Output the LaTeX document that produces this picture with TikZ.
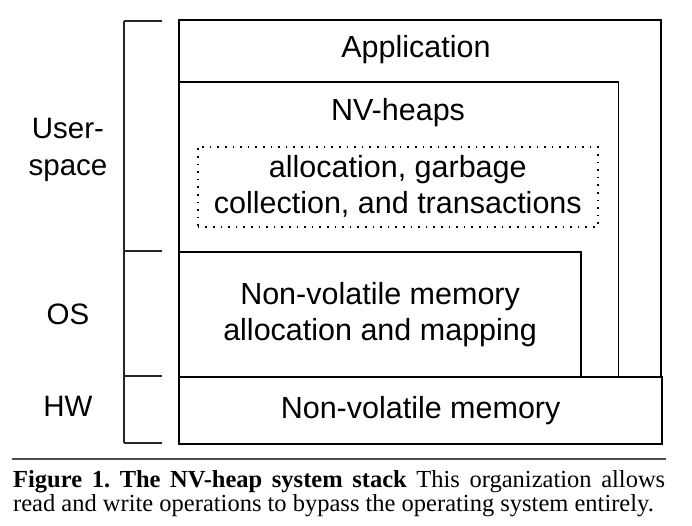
\documentclass[tikz,border=0pt]{standalone}
\usepackage{fontspec}
\setmainfont{Liberation Serif}
\newfontfamily\labelfont{Liberation Sans}
\frenchspacing
\begin{document}
\begin{tikzpicture}[x=1pt,y=-1pt,
  layer/.style={draw=black,line width=2.2pt,inner sep=0pt,anchor=north west},
  thinlayer/.style={draw=black,line width=1.3pt,inner sep=0pt,anchor=north west},
  dotbox/.style={draw=black,line width=1.6pt,dash pattern=on 1.6pt off 6pt,inner sep=0pt,anchor=north west},
  lbl/.style={font=\labelfont\fontsize{30.5}{36}\selectfont,align=center,inner sep=0pt},
  side/.style={font=\labelfont\fontsize{29.5}{37}\selectfont,align=center,inner sep=0pt},
  capt/.style={anchor=base west,inner sep=0pt,font=\fontsize{24.5}{28}\selectfont},
  brk/.style={draw=black!85,line width=2pt}]
\useasboundingbox (0,0) rectangle (692,526);
% boxes
\node[layer,minimum width=482pt,minimum height=357pt] (app) at (178,19) {};
\node[thinlayer,minimum width=440pt,minimum height=294pt] (nvh) at (178,82) {};
\draw[line width=2.2pt] (nvh.north west) -- (nvh.north east);
\node[layer,minimum width=402pt,minimum height=125pt] (os) at (178,251) {};
\node[layer,fill=white,minimum width=483pt,minimum height=67pt] (hw) at (178,376) {};
\node[dotbox,minimum width=400pt,minimum height=80pt] (dots) at (197,146) {};
% texts
\node[lbl] (apptext) at (416,50) {Application};
\node[lbl] (nvhtext) at (398,113) {NV-heaps};
\node[lbl] (dotstext) at (dots.center) {allocation, garbage\\collection, and transactions};
\node[lbl] (ostext) at (os.center) {Non-volatile memory\\allocation and mapping};
\node[lbl] (hwtext) at (hw.center) {Non-volatile memory};
% bracket
\coordinate (b0) at (124,21);
\coordinate (b1) at (124,251);
\coordinate (b2) at (124,376);
\coordinate (b3) at (124,443);
\coordinate (t0) at (162,21);
\coordinate (t1) at (162,251);
\coordinate (t2) at (162,376);
\coordinate (t3) at (162,443);
\draw[brk] (b0) -- (b3);
\draw[brk] (b0) -- (t0);
\draw[brk] (b1) -- (t1);
\draw[brk] (b2) -- (t2);
\draw[brk] (b3) -- (t3);
\node[side] (us) at (68,150) {User-\\space};
\node[side] (oslbl) at (68,314) {OS};
\node[side] (hwlbl) at (68,406) {HW};
% caption
\coordinate (r0) at (12,459);
\coordinate (r1) at (666,459);
\draw[line width=2pt,black!70] (r0) -- (r1);
\node[capt] (cap1) at (13,487)
  {\makebox[652pt][s]{\textbf{Figure 1. The NV-heap system stack} This organization allows}};
\node[capt] (cap2) at (13,511)
  {read and write operations to bypass the operating system entirely.};
\end{tikzpicture}
\end{document}
